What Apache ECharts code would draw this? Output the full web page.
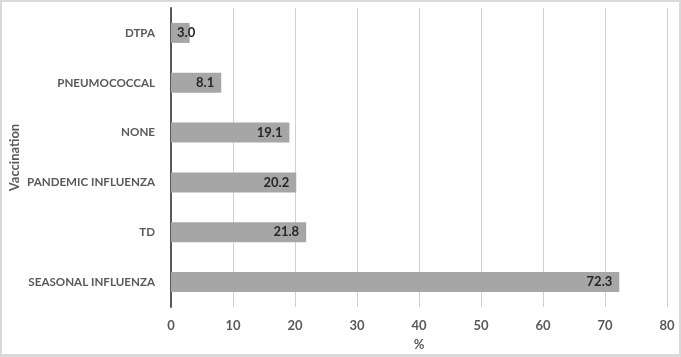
<!DOCTYPE html>
<html><head><meta charset="utf-8">
<script src="https://cdn.jsdelivr.net/npm/echarts@6/dist/echarts.min.js"></script>
<style>
html,body{margin:0;padding:0;background:#fff;}
#c{width:677px;height:352px;border:2px solid #d9d9d9;border-bottom-width:3px;}
</style></head><body>
<div id="c"></div>
<script>
var categories = ['SEASONAL INFLUENZA','TD','PANDEMIC INFLUENZA','NONE','PNEUMOCOCCAL','DTPA'];
var values = [72.3, 21.8, 20.2, 19.1, 8.1, 3.0];
var xTicks = [0,10,20,30,40,50,60,70,80];
var chart = echarts.init(document.getElementById('c'));
var font = 'Lato';
var barData = values.map(function(v){
  return v < 5 ? {value:v,label:{position:'insideLeft',distance:6}} : v;
});
chart.setOption({
  animation:false,
  grid:{left:169,right:12,top:6,bottom:47,containLabel:false,outerBoundsMode:'none'},
  xAxis:{type:'value',min:xTicks[0],max:xTicks[xTicks.length-1],interval:10,
    name:'%',nameLocation:'middle',nameGap:31,nameMoveOverlap:false,
    nameTextStyle:{fontFamily:font,fontWeight:'bold',fontSize:13,color:'#595959'},
    axisLine:{show:false},axisTick:{show:false},
    axisLabel:{fontFamily:font,fontWeight:'bold',fontSize:13,color:'#595959',margin:12},
    splitLine:{lineStyle:{color:'#d0d0d0',width:1}}},
  yAxis:{type:'category',data:categories,
    name:'Vaccination',nameLocation:'middle',nameGap:150,nameRotate:90,nameMoveOverlap:false,
    nameTextStyle:{fontFamily:font,fontWeight:'bold',fontSize:13,color:'#595959'},
    axisLine:{lineStyle:{color:'#595959',width:2}},axisTick:{show:false},
    axisLabel:{fontFamily:font,fontWeight:'bold',fontSize:11.6,color:'#595959',margin:16}},
  series:[{type:'bar',data:barData,barWidth:20,
    itemStyle:{color:'#a6a6a6'},
    label:{show:true,position:'insideRight',distance:7,fontFamily:font,fontWeight:'bold',fontSize:13,color:'#262626',
      formatter:function(p){return p.value.toFixed(1);}}}]
});
</script></body></html>
